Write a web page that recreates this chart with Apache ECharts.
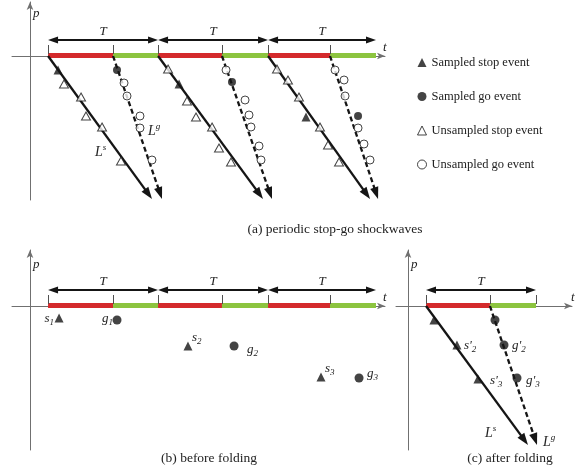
<!DOCTYPE html>
<html>
<head>
<meta charset="utf-8">
<script src="https://cdn.jsdelivr.net/npm/echarts@6/dist/echarts.min.js"></script>
<style>html,body{margin:0;padding:0;background:#fff}#chart{width:585px;height:472px}</style>
</head>
<body>
<div id="chart"></div>
<script>
// ---- data: t in units of the signal cycle T (t = 0 on the p axis), p = 0 on the t axis ----
const cycleStartA = [0.164, 1.164, 2.164];
const greenStartA = [0.755, 1.745, 2.727];
const cycleEndA   = [1.164, 2.164, 3.145];
const cycleStartC = [0.164];
const greenStartC = [0.745];
const cycleEndC   = [1.164];

// end points of the stop (L^s) and go (L^g) shockwaves, which start at red / green onset
const stopWaveEndA = [[1.109, -14.3], [2.118, -14.3], [3.091, -14.3]];
const goWaveEndA   = [[1.200, -14.3], [2.200, -14.3], [3.164, -14.3]];
const stopWaveEndC = [[1.091, -13.9]];
const goWaveEndC   = [[1.173, -13.9]];

// (a) periodic stop-go shockwaves
const sampledStopA = [[0.255, -1.4], [1.355, -2.8], [2.509, -6.1]];
const sampledGoA   = [[0.791, -1.4], [1.836, -2.6], [2.982, -6.0]];
const unsampledStopA = [
  [0.309, -2.8], [0.464, -4.1], [0.509, -6.0], [0.655, -7.1], [0.827, -10.5],
  [1.255, -1.3], [1.427, -4.5], [1.509, -6.1], [1.655, -7.1], [1.718, -9.2], [1.827, -10.6],
  [2.245, -1.3], [2.345, -2.4], [2.445, -4.1], [2.636, -7.1], [2.709, -8.9], [2.809, -10.6]
];
const unsampledGoA = [
  [0.855, -2.7], [0.882, -4.0], [1.000, -6.0], [1.000, -7.2], [1.109, -10.4],
  [1.782, -1.4], [1.955, -4.4], [1.991, -5.9], [2.009, -7.1], [2.082, -9.0], [2.100, -10.4],
  [2.773, -1.4], [2.855, -2.4], [2.864, -4.0], [2.982, -7.2], [3.036, -8.8], [3.091, -10.4]
];
// (b) before folding
const sampledStopB = [[0.264, -1.2], [1.436, -4.0], [2.645, -7.1]];
const sampledGoB   = [[0.791, -1.4], [1.855, -4.0], [2.991, -7.2]];
// (c) after folding
const sampledStopC = [[0.236, -1.4], [0.445, -3.9], [0.636, -7.3]];
const sampledGoC   = [[0.791, -1.4], [0.873, -3.9], [0.991, -7.2]];

const legendNames = ['Sampled stop event', 'Sampled go event', 'Unsampled stop event', 'Unsampled go event'];
const captions = ['(a) periodic stop-go shockwaves', '(b) before folding', '(c) after folding'];

// ---- styling ----
const FONT = '"Liberation Serif", "Times New Roman", serif';
const INK = '#151515';
const AXIS_COLOR = '#707070';
const RED = '#d42a2c';
const GREEN = '#8cc43f';

function phases(starts, greens, ends) {
  const out = [];
  starts.forEach((s, i) => { out.push([s, greens[i], 0]); out.push([greens[i], ends[i], 1]); });
  return out;
}
function spans(starts, ends) { return starts.map((s, i) => [s, ends[i]]); }
function waves(starts, endsArr) { return starts.map((s, i) => [s, 0, endsArr[i][0], endsArr[i][1]]); }

function renderPhase(params, api) {
  const a = api.coord([api.value(0), 0]);
  const b = api.coord([api.value(1), 0]);
  return { type: 'rect', shape: { x: a[0], y: a[1] - 3, width: b[0] - a[0], height: 5 },
    style: { fill: api.value(2) === 0 ? RED : GREEN } };
}
function renderTick(params, api) {
  const a = api.coord([api.value(0), 0]);
  const x = Math.round(a[0]) + 0.5;
  return { type: 'line', shape: { x1: x, y1: a[1] - 11, x2: x, y2: a[1] - 2 },
    style: { stroke: '#505050', lineWidth: 1 } };
}
function renderSpan(params, api) {
  const a = api.coord([api.value(0), 0]);
  const b = api.coord([api.value(1), 0]);
  const y = a[1] - 16, hl = 10, hw = 3.6;
  return { type: 'group', children: [
    { type: 'line', shape: { x1: a[0] + hl - 1, y1: y, x2: b[0] - hl + 1, y2: y }, style: { stroke: INK, lineWidth: 2 } },
    { type: 'polygon', shape: { points: [[a[0], y], [a[0] + hl, y - hw], [a[0] + hl, y + hw]] }, style: { fill: INK } },
    { type: 'polygon', shape: { points: [[b[0], y], [b[0] - hl, y - hw], [b[0] - hl, y + hw]] }, style: { fill: INK } },
    { type: 'text', x: (a[0] + b[0]) / 2, y: y - 8,
      style: { text: 'T', fontFamily: FONT, fontStyle: 'italic', fontSize: 13, fill: '#222',
        align: 'center', verticalAlign: 'middle', textAlign: 'center', textVerticalAlign: 'middle' } }
  ] };
}
function waveRenderer(dashed) {
  return function (params, api) {
    const a = api.coord([api.value(0), api.value(1)]);
    const b = api.coord([api.value(2), api.value(3)]);
    const dx = b[0] - a[0], dy = b[1] - a[1], L = Math.hypot(dx, dy);
    const ux = dx / L, uy = dy / L, hl = 12, hw = 4.2;
    const bx = b[0] - ux * hl, by = b[1] - uy * hl;
    return { type: 'group', children: [
      { type: 'line', shape: { x1: a[0], y1: a[1], x2: bx + ux * 2, y2: by + uy * 2 },
        style: { stroke: INK, lineWidth: 2.3, lineDash: dashed ? [5, 3] : null } },
      { type: 'polygon', shape: { points: [[b[0], b[1]], [bx - uy * hw, by + ux * hw], [bx + uy * hw, by - ux * hw]] },
        style: { fill: INK } }
    ] };
  };
}
function custom(gi, data, renderItem, z) {
  return { type: 'custom', xAxisIndex: gi, yAxisIndex: gi, data, renderItem, z, clip: false, silent: true };
}
function scatter(name, data, gi, symbol, filled, size) {
  return { type: 'scatter', name, data, xAxisIndex: gi, yAxisIndex: gi, symbol, symbolSize: size, z: 6, silent: true,
    itemStyle: filled ? { color: INK } : { color: '#fff', borderColor: INK, borderWidth: 1 },
    emphasis: { disabled: true } };
}
function axisBase(gi, min, max) {
  return { gridIndex: gi, type: 'value', min, max,
    axisLine: { show: true, onZero: true, symbol: ['none', 'arrow'], symbolSize: [5, 8],
      lineStyle: { color: AXIS_COLOR, width: 1 } },
    axisTick: { show: false }, axisLabel: { show: false }, splitLine: { show: false } };
}

const RICH = {
  i:   { fontFamily: FONT, fontStyle: 'italic', fontSize: 13, lineHeight: 16, fill: '#222', color: '#222' },
  L:   { fontFamily: FONT, fontStyle: 'italic', fontSize: 14, lineHeight: 18, fill: '#222', color: '#222' },
  sub: { fontFamily: FONT, fontStyle: 'italic', fontSize: 9, lineHeight: 9, verticalAlign: 'bottom', fill: '#222', color: '#222' },
  sup: { fontFamily: FONT, fontStyle: 'italic', fontSize: 9, lineHeight: 9, verticalAlign: 'top', fill: '#222', color: '#222' }
};
function txt(x, y, text, align) {
  align = align || 'left';
  return { type: 'text', x, y, silent: true, z: 10,
    style: { text, rich: RICH, fill: '#222', align, verticalAlign: 'middle', textAlign: align, textVerticalAlign: 'middle' } };
}
function caption(x, y, text) {
  return { type: 'text', x, y, silent: true,
    style: { text, fontFamily: FONT, fontSize: 13.5, fill: '#222', align: 'center', verticalAlign: 'middle',
      textAlign: 'center', textVerticalAlign: 'middle' } };
}

const option = {
  animation: false,
  backgroundColor: '#fff',
  grid: [
    { left: 12, top: 2, width: 373, height: 198, containLabel: false, outerBoundsMode: 'none' },
    { left: 12, top: 250, width: 373, height: 200, containLabel: false, outerBoundsMode: 'none' },
    { left: 396, top: 250, width: 176, height: 200, containLabel: false, outerBoundsMode: 'none' }
  ],
  xAxis: [axisBase(0, -0.1636, 3.227), axisBase(1, -0.1636, 3.227), axisBase(2, -0.109, 1.491)],
  yAxis: [axisBase(0, -14.4, 5.4), axisBase(1, -14.4, 5.6), axisBase(2, -14.4, 5.6)],
  legend: {
    orient: 'vertical', left: 412, top: 51, itemWidth: 9, itemHeight: 9, itemGap: 21,
    selectedMode: false,
    textStyle: { fontFamily: FONT, fontSize: 12.5, color: '#222' },
    data: [
      { name: legendNames[0], icon: 'triangle', itemStyle: { color: INK, borderWidth: 0 } },
      { name: legendNames[1], icon: 'circle', itemStyle: { color: INK, borderWidth: 0 } },
      { name: legendNames[2], icon: 'triangle', itemStyle: { color: '#fff', borderColor: INK, borderWidth: 1 } },
      { name: legendNames[3], icon: 'circle', itemStyle: { color: '#fff', borderColor: INK, borderWidth: 1 } }
    ]
  },
  series: [
    // panel (a)
    custom(0, phases(cycleStartA, greenStartA, cycleEndA), renderPhase, 2),
    custom(0, cycleStartA.concat(greenStartA).map(t => [t, 0]), renderTick, 2),
    custom(0, spans(cycleStartA, cycleEndA), renderSpan, 3),
    custom(0, waves(cycleStartA, stopWaveEndA), waveRenderer(false), 4),
    custom(0, waves(greenStartA, goWaveEndA), waveRenderer(true), 4),
    scatter(legendNames[2], unsampledStopA, 0, 'triangle', false, [9, 8]),
    scatter(legendNames[3], unsampledGoA, 0, 'circle', false, 8),
    scatter(legendNames[0], sampledStopA, 0, 'triangle', true, [9, 9]),
    scatter(legendNames[1], sampledGoA, 0, 'circle', true, 8),
    // panel (b)
    custom(1, phases(cycleStartA, greenStartA, cycleEndA), renderPhase, 2),
    custom(1, cycleStartA.concat(greenStartA).map(t => [t, 0]), renderTick, 2),
    custom(1, spans(cycleStartA, cycleEndA), renderSpan, 3),
    scatter(legendNames[0], sampledStopB, 1, 'triangle', true, [9, 9]),
    scatter(legendNames[1], sampledGoB, 1, 'circle', true, 9),
    // panel (c)
    custom(2, phases(cycleStartC, greenStartC, cycleEndC), renderPhase, 2),
    custom(2, cycleStartC.concat(greenStartC, cycleEndC).map(t => [t, 0]), renderTick, 2),
    custom(2, spans(cycleStartC, cycleEndC), renderSpan, 3),
    custom(2, waves(cycleStartC, stopWaveEndC), waveRenderer(false), 4),
    custom(2, waves(greenStartC, goWaveEndC), waveRenderer(true), 4),
    scatter(legendNames[0], sampledStopC, 2, 'triangle', true, [9, 9]),
    scatter(legendNames[1], sampledGoC, 2, 'circle', true, 9)
  ],
  graphic: [
    // axis names
    txt(33, 14, '{i|p}'), txt(383, 48, '{i|t}'),
    txt(33, 265, '{i|p}'), txt(383, 298, '{i|t}'),
    txt(411, 265, '{i|p}'), txt(571, 298, '{i|t}'),
    // shockwave names
    txt(95, 152, '{L|L}{sup|s}'), txt(148, 131, '{L|L}{sup|g}'),
    txt(485, 433, '{L|L}{sup|s}'), txt(543, 442, '{L|L}{sup|g}'),
    // event names (b)
    txt(54, 319, '{i|s}{sub|1}', 'right'), txt(113, 319, '{i|g}{sub|1}', 'right'),
    txt(192, 338, '{i|s}{sub|2}'), txt(247, 350, '{i|g}{sub|2}'),
    txt(325, 369, '{i|s}{sub|3}'), txt(367, 374, '{i|g}{sub|3}'),
    // event names (c)
    txt(464, 346, "{i|s'}{sub|2}"), txt(490, 381, "{i|s'}{sub|3}"),
    txt(512, 346, "{i|g'}{sub|2}"), txt(526, 381, "{i|g'}{sub|3}"),
    // captions
    caption(335, 229, captions[0]), caption(209, 458, captions[1]), caption(510, 458, captions[2])
  ]
};

const chart = echarts.init(document.getElementById('chart'), null, { renderer: 'canvas' });
chart.setOption(option);
</script>
</body>
</html>
